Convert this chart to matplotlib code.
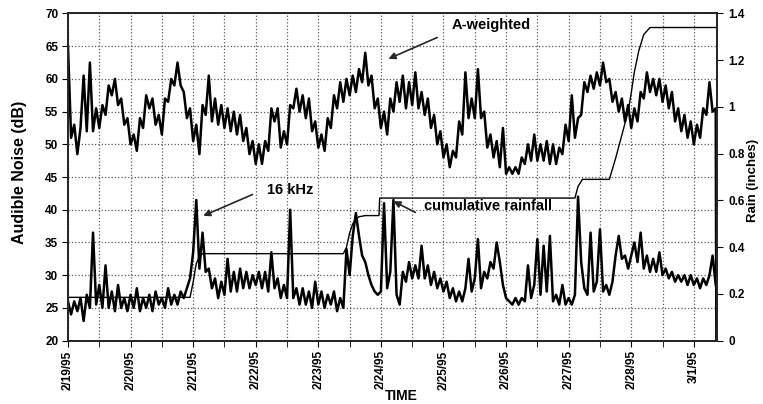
import numpy as np
import matplotlib.pyplot as plt
from matplotlib.ticker import MultipleLocator

plt.rcParams['font.family'] = ['Liberation Sans', 'DejaVu Sans']
plt.rcParams['font.weight'] = 'bold'
plt.rcParams['axes.labelweight'] = 'bold'

# sample spacing of the read-off series (days since 2/19/95)
dt = 0.05

# A-weighted noise (dB), every 0.05 day
a_weighted = [
    65.0, 51.0, 53.0, 48.5, 52.5, 60.5, 52.0, 62.5, 52.0, 55.5,
    52.5, 56.0, 54.5, 59.0, 57.5, 60.0, 56.0, 57.0, 53.0, 54.0,
    50.0, 51.5, 49.0, 54.0, 52.5, 57.5, 55.5, 57.0, 53.0, 54.5,
    51.5, 57.0, 56.5, 60.0, 59.0, 62.5, 59.0, 58.0, 54.0, 55.5,
    50.5, 53.0, 48.5, 56.0, 54.5, 60.5, 53.5, 57.0, 53.0, 56.0,
    52.5, 55.5, 52.0, 55.0, 51.5, 54.5, 50.5, 52.5, 48.5, 50.5,
    47.0, 50.0, 47.0, 50.5, 49.0, 55.5, 53.5, 55.5, 49.5, 52.0,
    50.0, 56.0, 55.5, 58.5, 55.0, 57.5, 54.0, 57.0, 52.0, 53.5,
    49.5, 51.5, 49.0, 54.0, 52.5, 57.5, 55.5, 59.5, 56.5, 60.0,
    57.5, 60.5, 58.0, 61.5, 59.5, 64.0, 59.0, 60.5, 55.5, 57.0,
    52.5, 55.0, 51.5, 57.0, 55.0, 59.5, 56.5, 60.5, 55.5, 59.5,
    56.0, 61.0, 55.5, 58.0, 54.5, 57.0, 52.5, 54.5, 50.0, 52.0,
    48.0, 50.0, 46.5, 49.0, 48.0, 53.5, 51.5, 61.0, 54.0, 57.0,
    54.0, 61.5, 54.0, 55.0, 49.5, 51.5, 48.0, 50.5, 46.5, 52.5,
    45.5, 46.5, 45.5, 46.5, 45.5, 48.0, 47.0, 50.0, 47.5, 51.5,
    47.5, 50.0, 47.5, 50.5, 47.0, 50.0, 47.0, 49.5, 48.5, 53.0,
    50.5, 57.5, 51.0, 54.0, 54.5, 59.5, 58.0, 60.5, 58.5, 61.0,
    59.0, 62.5, 59.5, 60.0, 56.5, 58.0, 55.0, 57.0, 53.5, 56.0,
    52.5, 55.5, 53.5, 58.0, 57.0, 61.0, 58.0, 60.0, 57.5, 60.0,
    56.5, 59.0, 55.5, 58.0, 53.5, 55.5, 52.0, 54.5, 51.0, 53.5,
    50.0, 53.0, 51.0, 55.5, 54.5, 59.5, 55.0, 55.5,
]
# the trace falls to the floor at the very end of the record
a_end_day = 10.36
a_end_value = 20.0

# 16 kHz band noise (dB), same spacing
khz16 = [
    26.0, 24.0, 26.0, 24.5, 26.5, 23.0, 27.0, 25.0, 36.5, 25.5,
    28.5, 25.0, 31.5, 25.0, 27.5, 24.5, 28.5, 25.0, 26.5, 24.5,
    27.0, 25.0, 28.0, 24.5, 26.5, 25.0, 27.0, 24.5, 27.5, 25.5,
    26.5, 25.0, 28.0, 25.5, 27.0, 25.5, 27.5, 26.5, 28.0, 29.5,
    33.5, 41.5, 31.0, 36.5, 30.5, 31.0, 28.0, 29.5, 26.5, 29.0,
    27.0, 32.5, 27.5, 30.5, 27.5, 31.0, 28.0, 30.5, 28.0, 30.0,
    28.5, 30.5, 28.0, 30.5, 27.5, 33.5, 28.0, 29.5, 26.5, 28.5,
    26.5, 40.0, 26.5, 28.0, 25.5, 28.0, 25.5, 27.5, 25.0, 29.0,
    25.5, 27.5, 25.0, 27.0, 25.5, 27.5, 24.5, 26.5, 25.0, 34.0,
    30.0, 36.0, 39.5, 36.0, 33.0, 32.0, 30.0, 28.5, 27.5, 27.0,
    27.5, 41.0, 28.0, 30.5, 41.5, 27.0, 25.5, 30.5, 29.0, 32.0,
    29.5, 31.5, 29.5, 34.5, 29.5, 31.5, 28.5, 30.5, 28.0, 29.5,
    27.5, 29.0, 26.5, 28.0, 26.0, 27.5, 26.0, 28.0, 32.5, 27.5,
    29.5, 35.5, 28.0, 30.5, 29.5, 32.0, 31.0, 35.0, 32.0, 28.5,
    26.5, 26.0, 25.5, 26.5, 25.5, 26.5, 26.0, 31.5, 26.5, 28.5,
    35.5, 27.0, 34.5, 27.5, 36.0, 26.0, 27.0, 25.5, 28.5, 25.5,
    26.5, 25.5, 27.0, 42.0, 32.0, 28.0, 27.0, 36.5, 27.5, 29.0,
    37.0, 27.5, 28.5, 27.0, 29.0, 33.0, 36.0, 32.5, 33.0, 31.0,
    33.0, 35.0, 32.0, 36.5, 31.0, 33.0, 30.5, 32.5, 30.5, 33.5,
    30.0, 31.0, 29.5, 30.5, 29.0, 30.0, 29.0, 30.0, 28.5, 30.0,
    28.5, 29.5, 28.0, 29.5, 28.5, 30.0, 33.0, 28.5,
]

# cumulative rainfall (inches)
rain_day = [0.0, 1.95, 2.0, 2.05, 2.1, 2.15, 4.4, 4.45, 4.5, 4.55, 4.6, 4.65,
            4.75, 4.97, 4.98, 8.1, 8.15, 8.22, 8.65, 8.75, 8.85, 8.95, 9.0,
            9.05, 9.12, 9.2, 9.3, 10.37]
rain_in = [0.185, 0.185, 0.25, 0.33, 0.36, 0.372, 0.372, 0.40, 0.46, 0.50, 0.52,
           0.53, 0.535, 0.535, 0.61, 0.61, 0.66, 0.69, 0.69, 0.78, 0.88, 0.98,
           1.06, 1.15, 1.24, 1.31, 1.34, 1.34]

date_labels = ['2/19/95', '2/20/95', '2/21/95', '2/22/95', '2/23/95', '2/24/95',
               '2/25/95', '2/26/95', '2/27/95', '2/28/95', '3/1/95']

t_a = np.append(np.arange(len(a_weighted)) * dt, a_end_day)
a_vals = np.append(a_weighted, a_end_value)
t_k = np.arange(len(khz16)) * dt

fig = plt.figure(figsize=(7.63, 4.04), dpi=100)
ax = fig.add_axes([0.0891, 0.157, 0.8506, 0.8096])

ax.plot(t_a, a_vals, color='black', lw=1.8)
ax.plot(t_k, khz16, color='black', lw=1.8)

ax.set_xlim(0, 10.37)
ax.set_ylim(20, 70)
ax.set_xticks(range(len(date_labels)))
ax.set_xticklabels(date_labels, rotation=90, fontsize=8.5)
ax.xaxis.set_minor_locator(MultipleLocator(0.5))
ax.yaxis.set_major_locator(MultipleLocator(5))
ax.tick_params(axis='y', labelsize=8.5, direction='out', length=4, pad=3)
ax.tick_params(axis='x', which='both', direction='out', length=4, pad=3)

ax.grid(True, which='both', axis='x', color='0.35', ls=':', lw=0.9)
ax.grid(True, which='major', axis='y', color='0.35', ls=':', lw=0.9)
for s in ax.spines.values():
    s.set_linewidth(1.3)
    s.set_color('0.15')

ax.set_ylabel('Audible Noise (dB)', fontsize=11.5, fontweight='bold')
ax.yaxis.set_label_coords(-0.063, 0.515)
ax.set_xlabel('TIME', fontsize=10, fontweight='bold', va='top')
ax.xaxis.set_label_coords(0.514, -0.147)

ax2 = ax.twinx()
ax2.plot(rain_day, rain_in, color='black', lw=1.0)
ax2.set_ylim(0, 1.4)
ax2.set_yticks([0, 0.2, 0.4, 0.6, 0.8, 1.0, 1.2, 1.4])
ax2.set_yticklabels(['0', '0.2', '0.4', '0.6', '0.8', '1', '1.2', '1.4'])
ax2.tick_params(axis='y', labelsize=8.5, direction='out', length=4, pad=4)
ax2.set_ylabel('Rain (inches)', fontsize=9.5, fontweight='bold', rotation=90)
ax2.yaxis.set_label_coords(1.046, 0.49)
for s in ax2.spines.values():
    s.set_linewidth(1.3)
    s.set_color('0.15')

arrow = dict(arrowstyle='-|>', color='0.15', lw=1.2, mutation_scale=10)
ax.text(6.77, 68.3, 'A-weighted', fontsize=10.5, ha='center', va='center')
ax.annotate('', xy=(5.08, 62.9), xytext=(5.94, 66.5), arrowprops=arrow)
ax.text(3.55, 43.0, '16 kHz', fontsize=10.5, ha='center', va='center')
ax.annotate('', xy=(2.12, 38.9), xytext=(2.99, 42.5), arrowprops=arrow)
ax.text(6.71, 40.5, 'cumulative rainfall', fontsize=10.5, ha='center', va='center')
ax.annotate('', xy=(5.16, 41.5), xytext=(5.59, 39.4), arrowprops=arrow)

fig.savefig('out.png', dpi=100)
